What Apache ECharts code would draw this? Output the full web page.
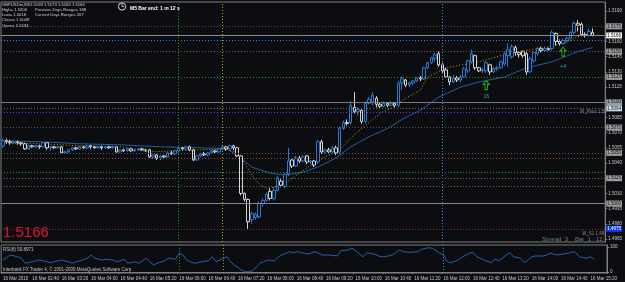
<!DOCTYPE html>
<html>
<head>
<meta charset="utf-8">
<title>GBPUSDm,M5</title>
<script src="https://cdn.jsdelivr.net/npm/echarts@6.0.0/dist/echarts.min.js"></script>
<style>
  html, body { margin: 0; padding: 0; background: #0b0d10; }
  #chart { width: 625px; height: 282px; }
</style>
</head>
<body>
<div id="chart"></div>
<script>
// M5 bars of 16 Mar 2010, first bar 02:00, room for 165 slots on the axis
const barTimes = [];
for (let m = 120; m < 120 + 165 * 5; m += 5) {
  const hh = String(Math.floor(m / 60)).padStart(2, '0');
  const mm = String(m % 60).padStart(2, '0');
  barTimes.push(hh + ':' + mm);
}

// [open, close, low, high]
const ohlc = [
  // 02:00
  [1.5057, 1.5062, 1.5055, 1.5064], [1.5062, 1.5061, 1.5059, 1.5064], [1.5061, 1.5060, 1.5058, 1.5063], [1.5060, 1.5061, 1.5059, 1.5062],
  [1.5061, 1.5060, 1.5058, 1.5062], [1.5060, 1.5059, 1.5057, 1.5061], [1.5059, 1.5054, 1.5053, 1.5060], [1.5054, 1.5057, 1.5053, 1.5058],
  // 02:40
  [1.5057, 1.5056, 1.5055, 1.5058], [1.5056, 1.5057, 1.5055, 1.5058], [1.5057, 1.5056, 1.5054, 1.5058], [1.5056, 1.5060, 1.5055, 1.5061],
  [1.5060, 1.5055, 1.5053, 1.5060], [1.5055, 1.5056, 1.5052, 1.5057], [1.5056, 1.5055, 1.5054, 1.5057], [1.5055, 1.5056, 1.5054, 1.5057],
  // 03:20
  [1.5056, 1.5050, 1.5049, 1.5057], [1.5050, 1.5051, 1.5049, 1.5052], [1.5051, 1.5053, 1.5050, 1.5054], [1.5053, 1.5055, 1.5052, 1.5056],
  [1.5055, 1.5054, 1.5053, 1.5056], [1.5054, 1.5056, 1.5053, 1.5057], [1.5056, 1.5055, 1.5054, 1.5057], [1.5055, 1.5057, 1.5054, 1.5058],
  // 04:00
  [1.5057, 1.5056, 1.5054, 1.5058], [1.5056, 1.5055, 1.5054, 1.5057], [1.5055, 1.5056, 1.5054, 1.5057], [1.5056, 1.5055, 1.5053, 1.5057],
  [1.5055, 1.5056, 1.5054, 1.5057], [1.5056, 1.5055, 1.5054, 1.5057], [1.5055, 1.5056, 1.5054, 1.5057], [1.5056, 1.5051, 1.5050, 1.5056],
  // 04:40
  [1.5051, 1.5053, 1.5050, 1.5054], [1.5053, 1.5052, 1.5051, 1.5054], [1.5052, 1.5054, 1.5051, 1.5055], [1.5054, 1.5052, 1.5051, 1.5055],
  [1.5052, 1.5053, 1.5051, 1.5054], [1.5053, 1.5054, 1.5052, 1.5055], [1.5054, 1.5053, 1.5052, 1.5055], [1.5053, 1.5053, 1.5051, 1.5054],
  // 05:20
  [1.5053, 1.5046, 1.5045, 1.5054], [1.5046, 1.5048, 1.5044, 1.5049], [1.5048, 1.5045, 1.5043, 1.5049], [1.5045, 1.5047, 1.5043, 1.5048],
  [1.5047, 1.5046, 1.5044, 1.5048], [1.5046, 1.5050, 1.5045, 1.5051], [1.5050, 1.5049, 1.5048, 1.5052], [1.5049, 1.5052, 1.5048, 1.5053],
  // 06:00
  [1.5052, 1.5055, 1.5050, 1.5056], [1.5055, 1.5054, 1.5053, 1.5056], [1.5054, 1.5056, 1.5053, 1.5057], [1.5056, 1.5053, 1.5052, 1.5057],
  [1.5053, 1.5043, 1.5042, 1.5054], [1.5043, 1.5047, 1.5042, 1.5048], [1.5047, 1.5049, 1.5046, 1.5050], [1.5049, 1.5048, 1.5047, 1.5051],
  // 06:40
  [1.5048, 1.5050, 1.5047, 1.5051], [1.5050, 1.5052, 1.5049, 1.5053], [1.5052, 1.5051, 1.5049, 1.5053], [1.5051, 1.5054, 1.5050, 1.5055],
  [1.5054, 1.5056, 1.5053, 1.5058], [1.5056, 1.5054, 1.5052, 1.5057], [1.5054, 1.5057, 1.5053, 1.5058], [1.5057, 1.5055, 1.5053, 1.5058],
  // 07:20
  [1.5055, 1.5047, 1.5046, 1.5056], [1.5047, 1.5010, 1.5008, 1.5048], [1.5010, 1.5004, 1.5002, 1.5011], [1.5004, 1.4982, 1.4975, 1.5005],
  [1.4984, 1.4990, 1.4980, 1.4992], [1.4986, 1.4989, 1.4984, 1.4991], [1.4987, 1.5000, 1.4985, 1.5002], [1.5000, 1.5003, 1.4997, 1.5005],
  // 08:00
  [1.5003, 1.5009, 1.5002, 1.5011], [1.5012, 1.5005, 1.5003, 1.5015], [1.5005, 1.5013, 1.5003, 1.5016], [1.5013, 1.5025, 1.5012, 1.5027],
  [1.5022, 1.5018, 1.5016, 1.5024], [1.5017, 1.5029, 1.5015, 1.5030], [1.5029, 1.5042, 1.5027, 1.5055], [1.5043, 1.5037, 1.5035, 1.5044],
  // 08:40
  [1.5037, 1.5045, 1.5036, 1.5047], [1.5045, 1.5042, 1.5040, 1.5047], [1.5042, 1.5046, 1.5041, 1.5048], [1.5047, 1.5041, 1.5039, 1.5048],
  [1.5041, 1.5042, 1.5039, 1.5043], [1.5042, 1.5038, 1.5036, 1.5043], [1.5041, 1.5061, 1.5039, 1.5063], [1.5061, 1.5051, 1.5049, 1.5063],
  // 09:20
  [1.5051, 1.5053, 1.5049, 1.5054], [1.5053, 1.5051, 1.5050, 1.5055], [1.5051, 1.5055, 1.5050, 1.5057], [1.5055, 1.5050, 1.5048, 1.5057],
  [1.5051, 1.5074, 1.5049, 1.5076], [1.5074, 1.5080, 1.5073, 1.5082], [1.5080, 1.5079, 1.5077, 1.5083], [1.5080, 1.5097, 1.5078, 1.5101],
  // 10:00
  [1.5095, 1.5091, 1.5089, 1.5110], [1.5091, 1.5093, 1.5087, 1.5095], [1.5092, 1.5081, 1.5079, 1.5093], [1.5081, 1.5099, 1.5079, 1.5101],
  [1.5099, 1.5103, 1.5098, 1.5105], [1.5100, 1.5107, 1.5097, 1.5110], [1.5104, 1.5098, 1.5095, 1.5106], [1.5098, 1.5096, 1.5094, 1.5100],
  // 10:40
  [1.5096, 1.5099, 1.5095, 1.5101], [1.5099, 1.5097, 1.5095, 1.5100], [1.5097, 1.5099, 1.5096, 1.5101], [1.5099, 1.5097, 1.5095, 1.5100],
  [1.5097, 1.5119, 1.5095, 1.5121], [1.5119, 1.5123, 1.5112, 1.5125], [1.5122, 1.5117, 1.5115, 1.5123], [1.5117, 1.5119, 1.5115, 1.5120],
  // 11:20
  [1.5119, 1.5121, 1.5117, 1.5122], [1.5121, 1.5124, 1.5120, 1.5125], [1.5124, 1.5123, 1.5121, 1.5126], [1.5123, 1.5134, 1.5122, 1.5135],
  [1.5134, 1.5139, 1.5133, 1.5140], [1.5139, 1.5144, 1.5138, 1.5145], [1.5143, 1.5147, 1.5140, 1.5149], [1.5148, 1.5137, 1.5135, 1.5150],
  // 12:00
  [1.5137, 1.5131, 1.5129, 1.5139], [1.5132, 1.5125, 1.5124, 1.5134], [1.5125, 1.5120, 1.5117, 1.5126], [1.5120, 1.5124, 1.5119, 1.5127],
  [1.5124, 1.5122, 1.5120, 1.5126], [1.5122, 1.5125, 1.5120, 1.5127], [1.5125, 1.5133, 1.5124, 1.5135], [1.5131, 1.5141, 1.5129, 1.5142],
  // 12:40
  [1.5140, 1.5148, 1.5139, 1.5152], [1.5146, 1.5134, 1.5132, 1.5147], [1.5134, 1.5131, 1.5130, 1.5135], [1.5131, 1.5132, 1.5129, 1.5134],
  [1.5131, 1.5139, 1.5129, 1.5141], [1.5137, 1.5130, 1.5127, 1.5138], [1.5130, 1.5133, 1.5129, 1.5135], [1.5133, 1.5134, 1.5131, 1.5136],
  // 13:20
  [1.5134, 1.5140, 1.5133, 1.5141], [1.5138, 1.5148, 1.5136, 1.5150], [1.5146, 1.5152, 1.5135, 1.5158], [1.5145, 1.5155, 1.5143, 1.5157],
  [1.5154, 1.5149, 1.5146, 1.5156], [1.5149, 1.5147, 1.5144, 1.5150], [1.5150, 1.5146, 1.5144, 1.5151], [1.5148, 1.5130, 1.5127, 1.5150],
  // 14:00
  [1.5130, 1.5143, 1.5129, 1.5145], [1.5141, 1.5149, 1.5139, 1.5150], [1.5148, 1.5153, 1.5146, 1.5155], [1.5153, 1.5151, 1.5149, 1.5155],
  [1.5151, 1.5153, 1.5150, 1.5155], [1.5153, 1.5152, 1.5151, 1.5154], [1.5153, 1.5169, 1.5151, 1.5171], [1.5168, 1.5160, 1.5156, 1.5169],
  // 14:40
  [1.5160, 1.5158, 1.5156, 1.5162], [1.5158, 1.5161, 1.5157, 1.5163], [1.5161, 1.5163, 1.5159, 1.5165], [1.5163, 1.5169, 1.5162, 1.5170],
  [1.5169, 1.5178, 1.5167, 1.5180], [1.5178, 1.5176, 1.5170, 1.5181], [1.5177, 1.5167, 1.5166, 1.5179], [1.5167, 1.5166, 1.5164, 1.5169],
  // 15:20
  [1.5166, 1.5170, 1.5165, 1.5173], [1.5169, 1.5166, 1.5165, 1.5173]
];

// moving averages: bar index / price
const maFastIdx = [0, 10, 21, 32, 40, 47, 54, 61, 64, 66, 68, 70, 72, 75, 77, 81, 85, 88, 92, 95, 99, 103, 106, 110, 114, 116, 121, 130, 139, 148, 154, 157, 161];
const maFastVal = [1.5060, 1.5059, 1.5057, 1.5056, 1.5051, 1.5052, 1.5053, 1.5054, 1.5050, 1.5040, 1.5028, 1.5019, 1.5015, 1.5017, 1.5020, 1.5030, 1.5040, 1.5046, 1.5053, 1.5065, 1.5077, 1.5089, 1.5094, 1.5104, 1.5112, 1.5125, 1.5134, 1.5140, 1.5149, 1.5154, 1.5159, 1.5165, 1.5167];
const maSlowIdx = [0, 10, 21, 32, 43, 54, 61, 64, 68, 73, 77, 82, 86, 91, 95, 100, 105, 109, 114, 119, 125, 130, 137, 143, 150, 157, 161];
const maSlowVal = [1.5062, 1.5061, 1.5059, 1.5058, 1.5056, 1.5055, 1.5054, 1.5048, 1.5036, 1.5030, 1.5028, 1.5031, 1.5036, 1.5045, 1.5056, 1.5066, 1.5074, 1.5083, 1.5092, 1.5105, 1.5115, 1.5120, 1.5125, 1.5134, 1.5140, 1.5150, 1.5154];

// RSI(8): bar index / value
const rsiIdx = [0, 2, 4, 5, 6, 8, 9, 10, 12, 13, 15, 16, 18, 19, 20, 21, 23, 24, 25, 27, 28, 30, 31, 33, 34, 36, 37, 39, 41, 42, 44, 45, 47, 48, 49, 50, 52, 53, 54, 56, 57, 58, 60, 61, 62, 63, 65, 66, 67, 68, 70, 71, 72, 74, 75, 76, 78, 79, 80, 82, 83, 85, 87, 89, 91, 92, 94, 95, 96, 98, 99, 101, 103, 104, 106, 108, 109, 111, 113, 114, 116, 117, 119, 120, 121, 122, 124, 125, 127, 128, 129, 130, 131, 133, 134, 135, 136, 137, 138, 139, 141, 142, 143, 144, 145, 147, 148, 149, 151, 152, 154, 155, 156, 157, 159, 160, 161];
const rsiVal = [48, 68, 61, 55, 35, 41, 45, 48, 41, 37, 45, 48, 40, 35, 41, 45, 55, 68, 55, 48, 51, 48, 41, 51, 35, 41, 35, 55, 28, 35, 45, 55, 51, 75, 68, 48, 35, 37, 41, 45, 61, 41, 55, 61, 41, 28, 8, 1, 1, 5, 35, 41, 48, 45, 61, 68, 81, 77, 81, 75, 72, 81, 68, 68, 64, 85, 88, 95, 85, 61, 77, 72, 61, 61, 68, 88, 81, 79, 81, 91, 97, 95, 75, 68, 41, 37, 48, 59, 75, 79, 61, 55, 48, 37, 51, 45, 55, 68, 77, 61, 55, 37, 48, 61, 64, 64, 68, 75, 68, 71, 75, 81, 77, 61, 55, 61, 51];

// price tick labels on the right scale
const yTicks = [1.4965, 1.4980, 1.4995, 1.5010, 1.5025, 1.5040, 1.5055, 1.5070, 1.5085, 1.5100, 1.5115, 1.5130, 1.5145, 1.5160, 1.5175, 1.5190];

// horizontal levels (pivots, bid, day high/low ...)
const levelPrices = [1.5175, 1.5166, 1.5161, 1.5150, 1.5125, 1.5100, 1.5094, 1.5090, 1.5075, 1.5050, 1.5045, 1.5031, 1.5025, 1.5017, 1.5000, 1.4975];

// vertical time lines
const vLineIdx = [48, 60, 120];

// signal arrows and their counts
const signalIdx = [132, 153];
const signalPrice = [1.5117, 1.5150];
const signalText = ['16', '+4'];
const signalTextPrice = [1.5106, 1.5135];

const FONT = '"Liberation Sans", Arial, sans-serif';

const levelLook = [
  { c: '#4a5a2a', t: [1, 2], box: '#9c9c9c', fg: '#111' },
  { c: '#8c8c8c', t: 'solid', box: '#ffffff', fg: '#000' },
  { c: '#1e90ff', t: [1, 2], box: null },
  { c: '#6e5f48', t: [1, 2], box: '#9c9c9c', fg: '#111' },
  { c: '#1f9a1f', t: [1, 2], box: '#9c9c9c', fg: '#111' },
  { c: '#7a7a7a', t: 'solid', box: '#9c9c9c', fg: '#111' },
  { c: '#6a6a6a', t: [1, 2], box: '#c6dcf2', fg: '#111' },
  { c: '#8a2be2', t: [1, 2], box: null },
  { c: '#5a5a5a', t: [1, 2], box: '#9c9c9c', fg: '#111' },
  { c: '#505050', t: [1, 2], box: '#9c9c9c', fg: '#111' },
  { c: '#9a4a1a', t: [1, 2], box: null },
  { c: '#1f9a1f', t: [1, 2], box: null },
  { c: '#6a6a6a', t: [1, 2], box: '#9c9c9c', fg: '#111' },
  { c: '#8b5a2b', t: [1, 2], box: null },
  { c: '#8a8a8a', t: 'solid', box: '#9c9c9c', fg: '#111' },
  { c: '#b22222', t: [1, 2], box: '#0a3cff', fg: '#fff' }
];
const vLineColors = ['#1a9a1a', '#a8a800', '#1e90ff'];

const levelLines = levelPrices.map((p, k) => {
  const look = levelLook[k];
  return {
    yAxis: p,
    lineStyle: { color: look.c, type: look.t, width: 1 },
    label: look.box ? {
      show: true, position: 'end', distance: 1,
      formatter: p.toFixed(4), fontSize: 4.5, fontFamily: FONT,
      color: look.fg, backgroundColor: look.box, padding: [1, 1, 0, 1]
    } : { show: false }
  };
});
const vLines = vLineIdx.map((i, k) => ({
  xAxis: barTimes[i],
  lineStyle: { color: vLineColors[k], type: [1, 2], width: 1 },
  label: { show: false }
}));

const arrowPath = 'path://M5,0 L10,5 L7,5 L7,12 L3,12 L3,5 L0,5 Z';
const signalMarks = [];
signalIdx.forEach((i, k) => {
  signalMarks.push({
    coord: [barTimes[i], signalPrice[k]], symbol: arrowPath, symbolSize: [6, 9],
    itemStyle: { color: 'rgba(0,0,0,0)', borderColor: '#22b022', borderWidth: 1 },
    label: { show: false }
  });
  signalMarks.push({
    coord: [barTimes[i], signalTextPrice[k]], symbol: 'circle', symbolSize: 0.1,
    label: { show: true, position: 'inside', formatter: signalText[k], color: '#20b2aa', fontSize: 5, fontFamily: FONT }
  });
});

const chart = echarts.init(document.getElementById('chart'), null, { renderer: 'canvas' });

function txt(x, y, text, size, color, weight) {
  return {
    type: 'text', x: x, y: y, silent: true, z: 50,
    style: { text: text, fill: color, font: (weight || 'normal') + ' ' + size + 'px ' + FONT, verticalAlign: 'middle' }
  };
}

const option = {
  animation: false,
  backgroundColor: '#0b0d10',
  grid: [
    { left: 1, right: 18, top: 2, bottom: 40, show: true, borderColor: '#808080', borderWidth: 1, backgroundColor: 'transparent' },
    { left: 1, right: 18, top: 245, bottom: 9, show: true, borderColor: '#808080', borderWidth: 1, backgroundColor: 'transparent' }
  ],
  xAxis: [
    {
      type: 'category', gridIndex: 0, data: barTimes,
      axisLine: { show: false }, axisTick: { show: false }, axisLabel: { show: false }, splitLine: { show: false }
    },
    {
      type: 'category', gridIndex: 1, data: barTimes,
      axisLine: { show: true, lineStyle: { color: '#808080' } },
      axisTick: { show: true, length: 2, interval: (i) => i % 8 === 0, lineStyle: { color: '#808080' } },
      axisLabel: {
        interval: (i) => i % 8 === 0,
        formatter: (v, i) => (i === 0 ? '16 Mar 2010' : '16 Mar ' + v),
        color: '#c8c8c8', fontSize: 4.5, fontFamily: FONT, align: 'left', margin: 3
      },
      splitLine: { show: false }
    }
  ],
  yAxis: [
    {
      type: 'value', gridIndex: 0, position: 'right', min: 1.4962, max: 1.5199, scale: true,
      axisLine: { show: true, lineStyle: { color: '#808080' } },
      axisTick: { show: true, length: 2, customValues: yTicks, lineStyle: { color: '#808080' } },
      axisLabel: { customValues: yTicks, formatter: (v) => v.toFixed(4), color: '#c8c8c8', fontSize: 4.5, fontFamily: FONT, margin: 3 },
      splitLine: { show: false }
    },
    {
      type: 'value', gridIndex: 1, position: 'right', min: -4, max: 108,
      axisLine: { show: true, lineStyle: { color: '#808080' } },
      axisTick: { show: true, length: 2, customValues: [0, 100], lineStyle: { color: '#808080' } },
      axisLabel: { customValues: [0, 100], color: '#c8c8c8', fontSize: 4.5, fontFamily: FONT, margin: 3 },
      splitLine: { show: false }
    }
  ],
  series: [
    {
      type: 'candlestick', xAxisIndex: 0, yAxisIndex: 0, barWidth: 3,
      data: ohlc,
      itemStyle: {
        color: '#0b0d10', color0: '#0b0d10',
        borderColor: '#2a7ad0', borderColor0: '#d4d4d4', borderColorDoji: '#d4d4d4', borderWidth: 1
      },
      markLine: { silent: true, precision: 6, symbol: ['none', 'none'], animation: false, data: levelLines.concat(vLines) },
      markPoint: { silent: true, animation: false, data: signalMarks },
      z: 3
    },
    {
      type: 'line', xAxisIndex: 0, yAxisIndex: 0, showSymbol: false, silent: true,
      data: maSlowIdx.map((i, k) => [i, maSlowVal[k]]),
      lineStyle: { color: '#1f5fa0', width: 1 }, z: 2
    },
    {
      type: 'line', xAxisIndex: 0, yAxisIndex: 0, showSymbol: false, silent: true,
      data: maFastIdx.map((i, k) => [i, maFastVal[k]]),
      lineStyle: { color: '#b5a21a', width: 1, type: [1, 2] }, z: 2
    },
    {
      type: 'line', xAxisIndex: 1, yAxisIndex: 1, showSymbol: false, silent: true,
      data: rsiIdx.map((i, k) => [i, rsiVal[k]]),
      lineStyle: { color: '#1f64b4', width: 1 },
      markLine: { silent: true, precision: 6, symbol: ['none', 'none'], animation: false, data: vLines }
    }
  ],
  graphic: [
    txt(2, 5, 'GBPUSDm,M5', 4.2, '#d0d0d0'),
    txt(30, 5, '1.5169 1.5173 1.5165 1.5166', 4.2, '#d0d0d0'),
    txt(2, 10, 'High= 1.5206', 4.2, '#d0d0d0'),
    txt(35, 10, 'Previous Days Range= 188', 4.2, '#d0d0d0'),
    txt(2, 15, 'Low= 1.5018', 4.2, '#d0d0d0'),
    txt(35, 15, 'Current Days Range= 207', 4.2, '#d0d0d0'),
    txt(2, 20, 'Close= 1.5049', 4.2, '#d0d0d0'),
    txt(2, 25.5, 'Open= 1.5194', 4.2, '#d0d0d0'),
    { type: 'circle', silent: true, z: 50, shape: { cx: 122, cy: 6.5, r: 3.6 }, style: { fill: 'none', stroke: '#e0e0e0', lineWidth: 1 } },
    { type: 'polyline', silent: true, z: 50, shape: { points: [[122, 4], [122, 6.5], [124, 6.5]] }, style: { fill: 'none', stroke: '#e0e0e0', lineWidth: 0.8 } },
    txt(130, 9, 'M5 Bar end: 1 m 12 s', 5, '#ffffff', 'bold'),
    txt(3, 233, '1.5166', 15, '#dc143c'),
    txt(580, 112, 'W_Pivot 1.50', 4.5, '#8a8a8a'),
    txt(582, 234, 'W_S1 1.49', 4.5, '#8a8a8a'),
    txt(542, 239, 'Spread  3', 6, '#7c7c7c'),
    txt(575, 239, 'Bar  1 : 12', 6, '#7c7c7c'),
    txt(3, 249.5, 'RSI(8) 50.8971', 4.5, '#c8c8c8'),
    txt(3, 270, 'Interbank FX Trader 4, \u00a9 2001-2009 MetaQuotes Software Corp.', 4.5, '#c8c8c8')
  ]
};

chart.setOption(option);
</script>
</body>
</html>
